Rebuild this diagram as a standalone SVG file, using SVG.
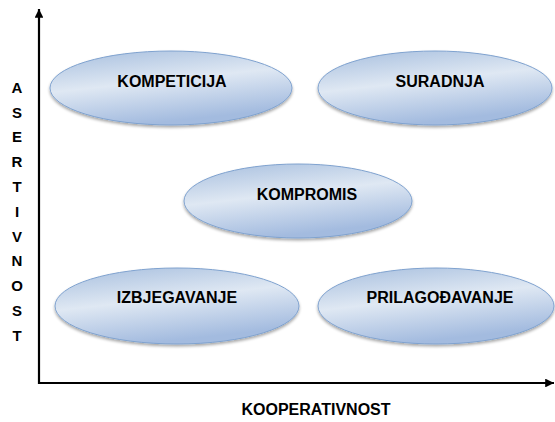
<svg xmlns="http://www.w3.org/2000/svg" width="555" height="422" viewBox="0 0 555 422">
<defs>
<linearGradient id="g" x1="0" y1="0" x2="0.35" y2="1">
<stop offset="0" stop-color="#a6bede"/>
<stop offset="0.5" stop-color="#dfe8f3"/>
<stop offset="1" stop-color="#a3bbdf"/>
</linearGradient>
<filter id="sh" x="-10%" y="-10%" width="120%" height="130%">
<feGaussianBlur in="SourceAlpha" stdDeviation="1.5"/>
<feOffset dx="0" dy="2" result="b"/>
<feComponentTransfer><feFuncA type="linear" slope="0.35"/></feComponentTransfer>
<feMerge><feMergeNode/><feMergeNode in="SourceGraphic"/></feMerge>
</filter>
<marker id="ah" viewBox="0 0 10 10" refX="10" refY="5" markerWidth="4" markerHeight="4" orient="auto" markerUnits="strokeWidth">
<path d="M0,0 L10,5 L0,10 z" fill="#000"/>
</marker>
</defs>
<style>
.el{fill:url(#g);stroke:#7fa2cf;stroke-width:1;filter:url(#sh)}
.t{font-family:"Liberation Sans",Arial,sans-serif;font-weight:bold;font-size:16px;fill:#000;text-anchor:middle}
.v{font-family:"Liberation Sans",Arial,sans-serif;font-weight:bold;font-size:15px;fill:#000;text-anchor:middle}
.ax{stroke:#000;stroke-width:2.2;fill:none;marker-end:url(#ah)}
</style>
<g id="connectors">
<line class="ax" x1="39" y1="384" x2="39" y2="9"/>
<line class="ax" x1="38" y1="383" x2="554" y2="383"/>
</g>
<g id="kompeticija">
<ellipse class="el" cx="171" cy="88" rx="121" ry="37"/>
<text class="t" x="172" y="87">KOMPETICIJA</text>
</g>
<g id="suradnja">
<ellipse class="el" cx="435" cy="88" rx="117" ry="37"/>
<text class="t" x="440" y="87">SURADNJA</text>
</g>
<g id="kompromis">
<ellipse class="el" cx="298" cy="201" rx="114" ry="37"/>
<text class="t" x="307" y="200">KOMPROMIS</text>
</g>
<g id="izbjegavanje">
<ellipse class="el" cx="177" cy="306" rx="122" ry="38"/>
<text class="t" x="177" y="303">IZBJEGAVANJE</text>
</g>
<g id="prilagodavanje">
<ellipse class="el" cx="436" cy="306" rx="118" ry="38"/>
<text class="t" x="440" y="303">PRILAGOĐAVANJE</text>
</g>
<g id="x-label">
<text class="t" x="316" y="415">KOOPERATIVNOST</text>
</g>
<g id="y-label">
<text class="v" x="17" y="93">A</text>
<text class="v" x="17" y="118">S</text>
<text class="v" x="17" y="142">E</text>
<text class="v" x="17" y="167">R</text>
<text class="v" x="17" y="192">T</text>
<text class="v" x="17" y="217">I</text>
<text class="v" x="17" y="242">V</text>
<text class="v" x="17" y="266">N</text>
<text class="v" x="17" y="291">O</text>
<text class="v" x="17" y="316">S</text>
<text class="v" x="17" y="341">T</text>
</g>
</svg>
